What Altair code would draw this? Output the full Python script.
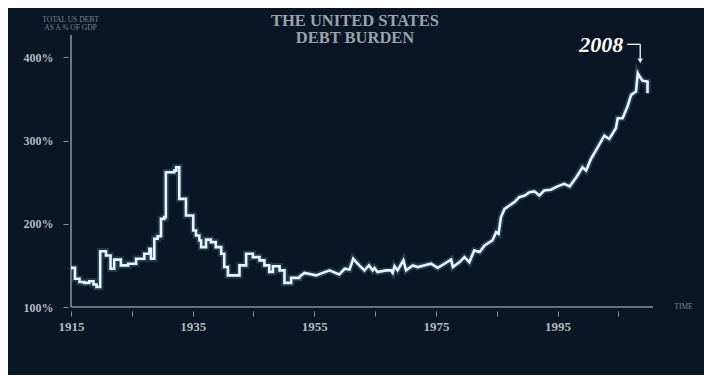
import altair as alt
import pandas as pd

# ---- data (total US debt, % of GDP) ----
step_years = [1915.0, 1915.65, 1916.4, 1917.2, 1918.0, 1918.7, 1919.2, 1919.8, 1920.75, 1921.5,
              1922.1, 1923.2, 1924.4, 1925.7, 1927.05, 1927.9, 1928.15, 1928.7, 1929.25, 1929.8,
              1930.35, 1930.6, 1932.0, 1932.3, 1932.8, 1933.9, 1935.1, 1935.55, 1936.1, 1936.4,
              1937.2, 1938.0, 1938.8, 1939.7, 1940.2, 1940.8, 1942.7, 1943.8, 1944.9, 1946.0,
              1946.8, 1947.6, 1948.2, 1949.3, 1950.1, 1951.2, 1952.5]
step_values = [147, 134, 130, 129, 131, 127, 124, 167, 162, 146,
               157, 150, 152, 158, 164, 170, 158, 182, 185, 206,
               208, 262, 264, 268, 230, 210, 192, 186, 180, 172,
               181, 178, 172, 164, 148, 138, 150, 164, 160, 156,
               150, 142, 149, 144, 129, 135, 136]

years = [1952.5, 1953.4, 1955.3, 1957.5, 1959.1, 1960.0, 1960.8, 1961.4, 1962.4, 1963.25,
         1964.0, 1964.6, 1964.9, 1965.4, 1966.8, 1967.6, 1967.9, 1968.2, 1968.7, 1969.65,
         1970.1, 1971.2, 1972.0, 1974.2, 1975.3, 1976.4, 1977.5, 1977.8, 1978.9, 1979.7,
         1980.5, 1981.3, 1982.2, 1983.0, 1984.3, 1984.9, 1985.3, 1985.7, 1986.3, 1987.1,
         1987.9, 1988.7, 1989.6, 1990.4, 1991.2, 1992.0, 1992.8, 1993.9, 1995.0, 1996.1,
         1997.0, 1998.1, 1999.1, 1999.7, 2000.5, 2001.6, 2002.7, 2003.5, 2004.6, 2004.9,
         2005.7, 2006.5, 2007.1, 2007.9, 2008.2, 2008.5, 2009.0, 2009.8, 2009.8]
debt_pct = [136, 141, 138, 144, 139, 146, 145, 158, 150, 144,
            150, 144, 147, 142, 144, 144, 141, 149, 144, 156,
            144, 150, 148, 152, 147, 152, 157, 148, 154, 160,
            154, 168, 166, 174, 180, 190, 188, 208, 218, 222,
            226, 232, 234, 238, 239, 234, 240, 241, 245, 248,
            245, 256, 268, 264, 278, 292, 306, 302, 315, 327,
            327, 341, 355, 359, 381, 377, 372, 371, 357]

x_ticks = [1915, 1925, 1935, 1945, 1955, 1965, 1975, 1985, 1995, 2005]
y_ticks = [100, 200, 300, 400]
x_domain = [1915, 2010.7]
y_domain = [100, 427]

title_lines = ["THE UNITED STATES", "DEBT BURDEN"]
y_title_lines = ["TOTAL US DEBT", "AS A % OF GDP"]
x_title = "TIME"
note_text = ["2008"]
note_year = [2005.8]
note_pct = [407]
arrow_h = {"x": [2006.45], "x2": [2008.6], "y": [415.8]}
arrow_v = {"x": [2008.6], "y": [415.8], "y2": [398]}
arrow_head = {"x": [2008.6], "y": [396]}

# ---- styles ----
BG = "#0a1526"
LINE = "#e6f6fd"
GLOW = "#7fc4e8"
AXIS = "#8a8f98"
LABEL = "#b4b8be"
DIM = "#7c828d"
SERIF = "Liberation Serif"

xs = alt.Scale(domain=x_domain, nice=False, zero=False)
ys = alt.Scale(domain=y_domain, nice=False, zero=False)

x_axis = alt.Axis(values=x_ticks, format="d",
                  labelExpr="(datum.value - 1915) % 20 == 0 ? datum.label : ''",
                  domain=False, grid=False, offset=4, tickSize=5, tickColor=AXIS, tickWidth=1,
                  labelFont=SERIF, labelFontSize=13, labelColor=LABEL, labelPadding=4,
                  labelFontWeight="bold", labelFlush=False,
                  title=x_title, titleFont=SERIF, titleFontSize=7.5, titleColor=DIM,
                  titleFontWeight="normal", titleX=612, titleY=-4.7, titleAlign="center",
                  titleBaseline="middle")
y_axis = alt.Axis(values=y_ticks, labelExpr="datum.value + '%'",
                  domain=False, grid=False, offset=3, tickSize=5, tickColor=AXIS, tickWidth=1,
                  labelFont=SERIF, labelFontSize=12, labelColor=LABEL, labelPadding=10,
                  labelFontWeight="bold", labelFlush=False,
                  title=y_title_lines, titleFont=SERIF, titleFontSize=7.5, titleColor=DIM,
                  titleFontWeight="normal", titleAngle=0, titleX=2, titleY=-15.5,
                  titleAlign="center", titleBaseline="middle", titleLineHeight=8)


def X(field):
    return alt.X(field, scale=xs, axis=x_axis)


def Y(field):
    return alt.Y(field, scale=ys, axis=y_axis)


step_df = pd.DataFrame({"year": step_years, "pct": step_values})
lin_df = pd.DataFrame({"year": years, "pct": debt_pct, "i": list(range(len(years)))})

glow_step = alt.Chart(step_df).mark_line(interpolate="step-after", color=GLOW, strokeWidth=6.5,
                                         opacity=0.2).encode(x=X("year:Q"), y=Y("pct:Q"))
glow_lin = alt.Chart(lin_df).mark_line(color=GLOW, strokeWidth=6.5, opacity=0.2).encode(
    x=X("year:Q"), y=Y("pct:Q"), order="i:Q")
line_step = alt.Chart(step_df).mark_line(interpolate="step-after", color=LINE, strokeWidth=2.6
                                         ).encode(x=X("year:Q"), y=Y("pct:Q"))
line_lin = alt.Chart(lin_df).mark_line(color=LINE, strokeWidth=2.6).encode(
    x=X("year:Q"), y=Y("pct:Q"), order="i:Q")

x_line = alt.Chart(pd.DataFrame({"x": [x_domain[0]], "x2": [x_domain[1]], "y": [y_domain[0]]})).mark_rule(
    color=AXIS, strokeWidth=1.6).encode(x=X("x:Q"), x2="x2", y=Y("y:Q"))
y_line = alt.Chart(pd.DataFrame({"x": [x_domain[0]], "y": [y_domain[0]], "y2": [y_domain[1]]})).mark_rule(
    color=AXIS, strokeWidth=1.6).encode(x=X("x:Q"), y=Y("y:Q"), y2="y2")

note = alt.Chart(pd.DataFrame({"t": note_text, "x": note_year, "y": note_pct})).mark_text(
    align="right", baseline="alphabetic", font=SERIF, fontSize=22, fontStyle="italic",
    fontWeight="bold", color="#ffffff").encode(x=X("x:Q"), y=Y("y:Q"), text="t:N")
arr1 = alt.Chart(pd.DataFrame(arrow_h)).mark_rule(color="#e8e8e8", strokeWidth=1.4).encode(
    x=X("x:Q"), x2="x2", y=Y("y:Q"))
arr2 = alt.Chart(pd.DataFrame(arrow_v)).mark_rule(color="#e8e8e8", strokeWidth=1.4).encode(
    x=X("x:Q"), y=Y("y:Q"), y2="y2")
arr3 = alt.Chart(pd.DataFrame(arrow_head)).mark_point(shape="triangle-down", filled=True,
                                                      color="#e8e8e8", size=30, opacity=1).encode(
    x=X("x:Q"), y=Y("y:Q"))

chart = alt.layer(glow_step, glow_lin, x_line, y_line, line_step, line_lin, note, arr1, arr2, arr3).properties(
    width=582, height=272,
    padding={"left": 63, "top": 27, "right": 51, "bottom": 68},
    autosize=alt.AutoSizeParams(type="none"),
    background=BG,
    title=alt.TitleParams(text=title_lines, anchor="middle", font=SERIF, fontSize=16.5,
                          fontWeight="bold", color="#9da1a8", lineHeight=17.5, dx=-7, dy=31,
                          baseline="top", offset=0),
).configure_view(stroke=None)

chart.save("out.html", embed_options={"renderer": "svg", "actions": False})
